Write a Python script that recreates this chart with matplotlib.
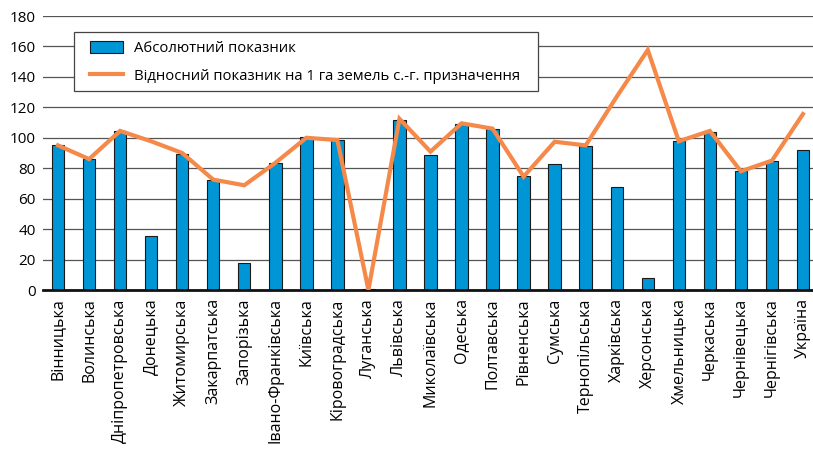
import numpy as np
import matplotlib.pyplot as plt
from matplotlib.patches import Rectangle

regions = ["Вінницька", "Волинська", "Дніпропетровська", "Донецька", "Житомирська",
           "Закарпатська", "Запорізька", "Івано-Франківська", "Київська", "Кіровоградська",
           "Луганська", "Львівська", "Миколаївська", "Одеська", "Полтавська",
           "Рівненська", "Сумська", "Тернопільська", "Харківська", "Херсонська",
           "Хмельницька", "Черкаська", "Чернівецька", "Чернігівська", "Україна"]

absolute = [95.3, 86.3, 104.2, 35.5, 89.6, 72.3, 17.9, 83.4, 100.3, 98.3,
            0.5, 111.9, 88.7, 108.8, 105.8, 74.9, 82.6, 94.8, 67.5, 8.1,
            97.7, 104.0, 78.2, 84.5, 92.2]

relative = [95.0, 86.0, 104.5, 97.7, 90.0, 72.5, 68.8, 83.5, 100.0, 98.5,
            0.0, 112.5, 90.9, 109.5, 106.0, 74.5, 97.4, 95.0, 127.0, 157.7,
            97.7, 104.5, 78.0, 85.0, 115.6]

plt.rcParams['font.family'] = ['Open Sans', 'DejaVu Sans']

W, H = 813, 454
fig = plt.figure(figsize=(W / 100, H / 100), dpi=100)
ax = fig.add_axes([42.5 / W, 1 - 290 / H, 776 / W, 274 / H])

x = np.arange(len(regions))
bars = ax.bar(x, absolute, width=0.4, color='#0096d6', edgecolor='#1a1a1a', linewidth=0.8,
              zorder=2)
line, = ax.plot(x, relative, color='#f5894a', linewidth=3, solid_joinstyle='miter',
                zorder=3)

ax.set_xlim(-0.5, len(regions) - 0.5)
ax.set_ylim(0, 180)
ax.set_yticks(range(0, 181, 20))
ax.yaxis.grid(True, color='#555555', linewidth=0.9, zorder=0)
ax.set_axisbelow(True)

for s in ['top', 'right', 'left']:
    ax.spines[s].set_visible(False)
ax.spines['bottom'].set_linewidth(2)
ax.spines['bottom'].set_color('#111111')

ax.set_xticks(x)
ax.set_xticklabels(regions, rotation=90, fontsize=11.5)
ax.tick_params(axis='x', length=0, pad=6)
ax.tick_params(axis='y', length=0, pad=5, labelsize=11)

# legend frame
fig.patches.append(Rectangle((74 / W, 1 - 91 / H), (538 - 74) / W, (91 - 32) / H,
                             transform=fig.transFigure, facecolor='white',
                             edgecolor='#444444', linewidth=0.9, zorder=4))
leg = fig.legend([bars, line],
                 ['Абсолютний показник', 'Відносний показник на 1 га земель с.-г. призначення'],
                 loc='upper left', bbox_to_anchor=(90 / W, 1 - 41 / H),
                 bbox_transform=fig.transFigure, borderaxespad=0, borderpad=0,
                 fontsize=10.75, frameon=False, labelspacing=0.85,
                 handlelength=2.2, handleheight=0.8, handletextpad=0.75)
leg.set_zorder(5)

fig.savefig('out.png', dpi=100)
